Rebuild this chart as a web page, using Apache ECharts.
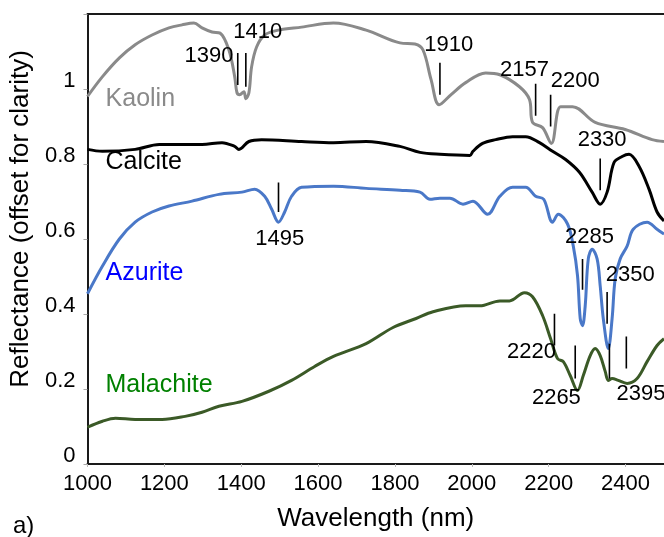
<!DOCTYPE html>
<html>
<head>
<meta charset="utf-8">
<script src="https://cdn.jsdelivr.net/npm/echarts@6/dist/echarts.min.js"></script>
<style>
html,body{margin:0;padding:0;background:#fff;}
#chart{width:664px;height:537px;}
</style>
</head>
<body>
<div id="chart"></div>
<script>
// ---- data (wavelength nm, reflectance offset) ----
const kaolin = [
  [1000,0.980],[1039,1.033],[1083,1.083],[1124,1.118],[1168,1.144],[1212,1.163],[1246,1.171],[1277,1.176],
  [1298,1.163],[1324,1.152],[1345,1.149],[1368,1.104],[1383,1.033],[1389,0.990],[1396,0.985],[1407,0.993],
  [1412,0.974],[1420,0.990],[1427,1.059],[1440,1.112],[1461,1.144],[1497,1.157],[1557,1.165],[1640,1.176],
  [1725,1.157],[1813,1.123],[1852,1.120],[1873,1.104],[1894,1.025],[1915,0.958],[1946,0.985],[1984,1.017],
  [2036,1.043],[2073,1.038],[2124,1.006],[2150,0.972],[2158,0.911],[2184,0.897],[2207,0.855],[2231,0.953],
  [2262,0.953],[2321,0.911],[2399,0.892],[2469,0.865],[2500,0.860]
];
const calcite = [
  [1000,0.839],[1039,0.834],[1124,0.839],[1187,0.852],[1298,0.852],[1350,0.857],[1383,0.847],[1394,0.839],
  [1420,0.860],[1453,0.865],[1557,0.860],[1640,0.857],[1725,0.860],[1813,0.847],[1865,0.831],[1917,0.826],
  [1995,0.823],[2003,0.834],[2028,0.855],[2062,0.865],[2106,0.873],[2140,0.873],[2176,0.857],[2210,0.834],
  [2244,0.812],[2280,0.778],[2313,0.725],[2334,0.693],[2352,0.725],[2370,0.804],[2391,0.820],[2409,0.826],
  [2435,0.794],[2461,0.733],[2482,0.672],[2500,0.648]
];
const azurite = [
  [1000,0.454],[1039,0.528],[1083,0.600],[1124,0.645],[1168,0.672],[1212,0.688],[1272,0.701],[1342,0.719],
  [1402,0.725],[1435,0.733],[1461,0.714],[1479,0.680],[1497,0.645],[1513,0.672],[1531,0.714],[1557,0.738],
  [1640,0.741],[1725,0.735],[1813,0.730],[1865,0.725],[1891,0.706],[1917,0.709],[1943,0.709],[1977,0.693],
  [2003,0.701],[2041,0.666],[2073,0.714],[2106,0.738],[2140,0.738],[2166,0.714],[2187,0.706],[2210,0.645],
  [2225,0.666],[2249,0.640],[2264,0.581],[2275,0.502],[2282,0.388],[2288,0.369],[2295,0.422],[2303,0.547],
  [2313,0.573],[2326,0.547],[2334,0.475],[2342,0.388],[2355,0.308],[2365,0.388],[2373,0.494],[2386,0.547],
  [2404,0.581],[2420,0.626],[2456,0.645],[2482,0.626],[2500,0.613]
];
const malachite = [
  [1000,0.098],[1039,0.114],[1073,0.122],[1124,0.119],[1194,0.119],[1254,0.127],[1298,0.138],[1342,0.154],
  [1402,0.167],[1472,0.194],[1531,0.223],[1591,0.260],[1640,0.287],[1725,0.321],[1795,0.364],[1855,0.388],
  [1899,0.406],[1984,0.422],[2021,0.422],[2073,0.435],[2098,0.435],[2137,0.457],[2158,0.446],[2184,0.396],
  [2205,0.334],[2223,0.281],[2238,0.273],[2256,0.236],[2275,0.196],[2290,0.236],[2308,0.289],[2321,0.308],
  [2334,0.289],[2347,0.247],[2355,0.223],[2365,0.228],[2381,0.223],[2404,0.215],[2430,0.228],[2456,0.273],
  [2482,0.316],[2500,0.334]
];

// band marker ticks
const annWl     = [1391,1412,1497,1917,2166,2205,2334,2288,2352,2215,2269,2358,2402];
const annTop    = [1.096,1.096,0.751,1.070,1.014,0.985,0.815,0.547,0.459,0.401,0.316,0.321,0.340];
const annBottom = [1.011,1.006,0.672,0.985,0.929,0.900,0.730,0.465,0.374,0.316,0.228,0.228,0.255];
// band labels
const annText    = ['1390','1410','1495','1910','2157','2200','2330','2285','2350','2220','2265','2395'];
const annLabelWl = [1316,1443,1500,1940,2137,2269,2339,2306,2412,2155,2220,2440];
const annLabelR  = [1.088,1.152,0.600,1.118,1.051,1.022,0.865,0.605,0.504,0.300,0.175,0.188];

// series name labels
const nameText = ['Kaolin','Calcite','Azurite','Malachite'];
const nameWl   = [1047,1047,1047,1047];
const nameR    = [0.972,0.804,0.510,0.210];

const xTicks = [1000,1200,1400,1600,1800,2000,2200,2400];
const yTicks = ['0','0.2','0.4','0.6','0.8','1'];

// ---- chart ----
const FONT = '"Liberation Sans", Arial, sans-serif';
const lineColors = ['#8a8a8a','#000000','#4a78c8','#3b5a27'];
const nameColors = ['#8a8a8a','#000000','#0000ff','#008000'];
const curves = [kaolin, calcite, azurite, malachite];

const series = [];
curves.forEach((d,i)=>{
  series.push({
    type:'line', data:d, showSymbol:false, smooth:0.35,
    lineStyle:{color:lineColors[i], width:3}, z:3, animation:false
  });
});
annWl.forEach((w,i)=>{
  series.push({
    type:'line', data:[[w,annTop[i]],[w,annBottom[i]]], showSymbol:false,
    lineStyle:{color:'#000', width:1.6}, z:4, animation:false
  });
});
series.push({
  type:'scatter', symbolSize:0, animation:false, z:5,
  itemStyle:{opacity:1},
  data: annText.map((t,i)=>[annLabelWl[i], annLabelR[i], t]),
  label:{show:true, position:'inside', formatter:p=>p.data[2],
    color:'#000', fontSize:22, fontFamily:FONT}
});
series.push({
  type:'scatter', symbolSize:0, animation:false, z:5,
  itemStyle:{opacity:1},
  data: nameText.map((t,i)=>({value:[nameWl[i], nameR[i], t],
    label:{color:nameColors[i]}})),
  label:{show:true, position:'right', distance:0, formatter:p=>p.data.value[2],
    fontSize:25, fontFamily:FONT}
});

const chart = echarts.init(document.getElementById('chart'), null, {renderer:'canvas'});
chart.setOption({
  backgroundColor:'#fff',
  animation:false,
  title:{text:'a)', left:8, top:509, textStyle:{fontSize:24, fontWeight:'normal', fontFamily:FONT, color:'#000'}},
  grid:{left:85, right:0, top:14, bottom:71},
  xAxis:[{
    type:'value', min:1000, max:2500, interval:200,
    name:'Wavelength (nm)', nameLocation:'middle', nameGap:42,
    nameTextStyle:{fontSize:26, fontFamily:FONT, color:'#000'},
    axisLine:{show:true, lineStyle:{color:'#1a1a1a', width:2}},
    axisTick:{show:true, length:3, lineStyle:{color:'#bbb'}},
    splitLine:{show:false},
    axisLabel:{fontSize:22, fontFamily:FONT, color:'#000', margin:9, showMaxLabel:false,
      formatter:v=> xTicks.indexOf(v)>=0 ? String(v) : ''}
  },{
    type:'value', min:1000, max:2500, position:'top',
    axisLine:{show:true, lineStyle:{color:'#1a1a1a', width:2}},
    axisTick:{show:false}, axisLabel:{show:false}, splitLine:{show:false}
  }],
  yAxis:{
    type:'value', min:0, max:1.2, interval:0.2,
    name:'Reflectance (offset for clarity)', nameLocation:'middle', nameGap:47,
    nameTextStyle:{fontSize:26, fontFamily:FONT, color:'#000', padding:[0,0,0,40]},
    axisLine:{show:true, lineStyle:{color:'#1a1a1a', width:2}},
    axisTick:{show:true, length:4, lineStyle:{color:'#aaa'}},
    splitLine:{show:false},
    axisLabel:{fontSize:22, fontFamily:FONT, color:'#000', margin:12, verticalAlign:'bottom', lineHeight:16,
      formatter:v=>{ const k=Math.round(v/0.2); return k<yTicks.length ? yTicks[k] : ''; }}
  },
  series:series
});
</script>
</body>
</html>
